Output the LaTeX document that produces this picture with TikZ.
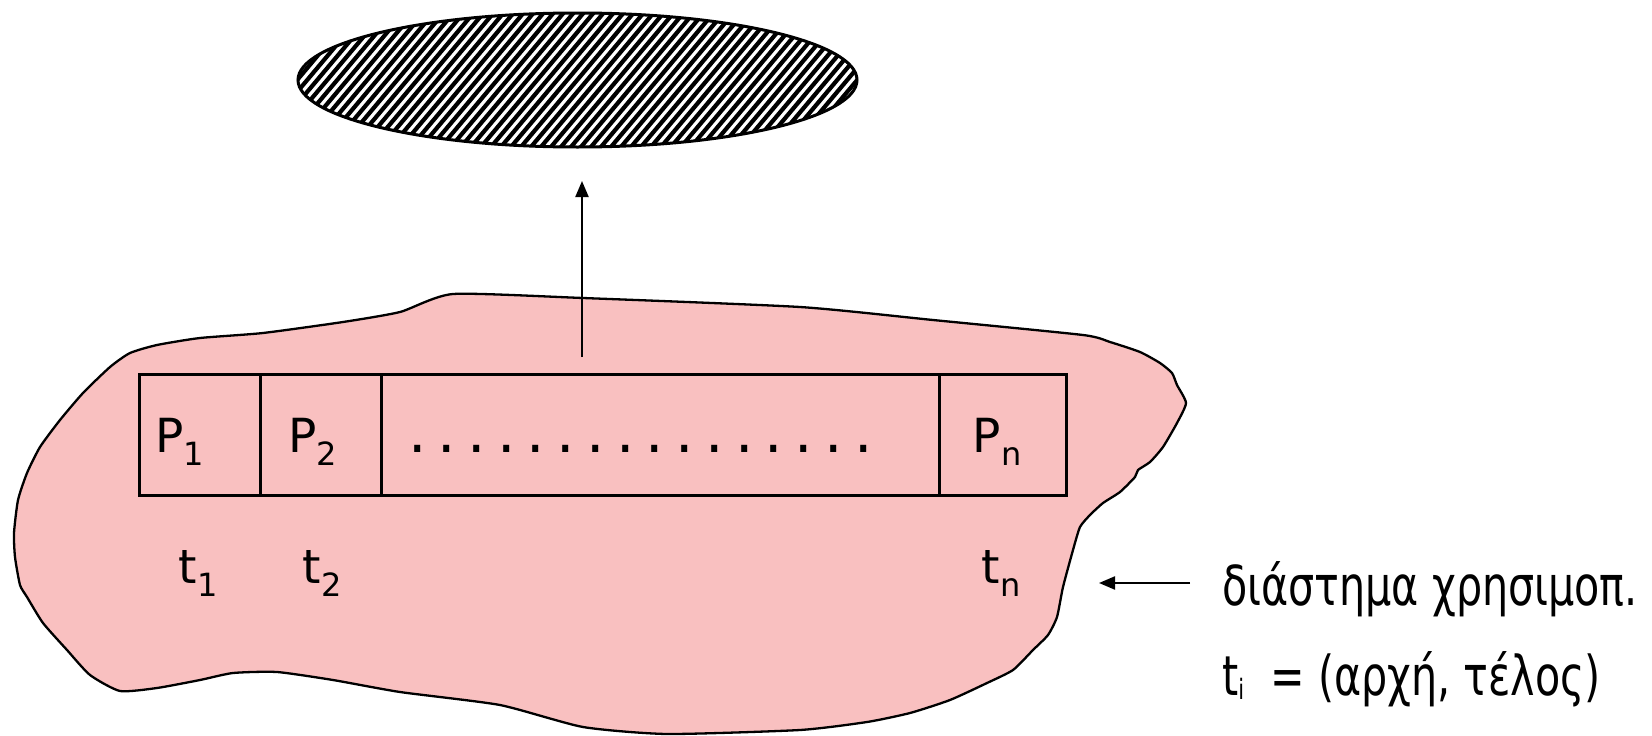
\documentclass[tikz,border=0pt]{standalone}
\usepackage{fontspec}
\setmainfont{DejaVu Sans}
\newfontfamily\narrowfont{DejaVu Sans}[FakeStretch=0.75]
\usetikzlibrary{shapes.geometric,arrows.meta}
\definecolor{blobpink}{RGB}{249,192,192}
\newcommand\lowsub[1]{\raisebox{-13pt}{\fontsize{32}{32}\selectfont #1}}
\newcommand\smallsub[1]{\raisebox{-4pt}{\fontsize{28}{28}\selectfont #1}}
\begin{document}
\begin{tikzpicture}[x=1pt,y=-1pt,
  outline/.style={draw=black,line width=2.3pt,line join=round},
  cell/.style={draw=black,line width=2.5pt,minimum height=121pt,inner sep=0pt,anchor=north west},
  lbl/.style={inner sep=0pt,anchor=base,font=\fontsize{47}{56}\selectfont},
  side/.style={inner sep=0pt,anchor=base west,font=\narrowfont\fontsize{55}{66}\selectfont},
  arr/.style={line width=2.2pt,-{Triangle[length=16pt,width=13pt]}}]
\path[use as bounding box] (0,0) rectangle (1652,736);
% blob
\draw[outline,fill=blobpink] plot[smooth cycle,tension=0.35] coordinates {
 (453,294) (583,298) (800,307) (933,320) (1083,335) (1110,342) (1140,352) (1160,363)
 (1172,373) (1177,385) (1186,403) (1177,423) (1163,447) (1150,462) (1138,470) (1135,477)
 (1120,492) (1103,503) (1090,515) (1080,527) (1073,550) (1063,587) (1057,617) (1048,635)
 (1033,650) (1013,670) (987,683) (950,700) (910,713) (867,722) (800,730) (667,734)
 (583,727) (500,705) (400,692) (333,680) (277,672) (233,673) (200,680) (157,688)
 (120,691) (90,675) (67,650) (43,623) (27,597) (20,585) (15,557) (14,533) (18,500)
 (27,473) (40,447) (60,420) (83,393) (110,367) (130,353) (157,345) (200,338) (263,333)
 (343,322) (400,312)};
% cells
\node[cell,minimum width=121pt] (c1) at (138,373) {};
\node[cell,minimum width=121pt] (c2) at (259,373) {};
\node[cell,minimum width=558pt] (cd) at (380,373) {};
\node[cell,minimum width=127pt] (cn) at (938,373) {};
\node[lbl] (p1) at (180,452) {P\lowsub{1}};
\node[lbl] (p2) at (313,452) {P\lowsub{2}};
\node[lbl] (pn) at (997,452) {P\lowsub{n}};
\node[inner sep=0pt,anchor=base west,font=\fontsize{58}{60}\selectfont] (dots) at (407.8,452)
 {.\hskip11.3pt.\hskip11.3pt.\hskip11.3pt.\hskip11.3pt.\hskip11.3pt.\hskip11.3pt.\hskip11.3pt.\hskip11.3pt.\hskip11.3pt.\hskip11.3pt.\hskip11.3pt.\hskip11.3pt.\hskip11.3pt.\hskip11.3pt.\hskip11.3pt.};
\node[lbl] (t1) at (198,583) {t\lowsub{1}};
\node[lbl] (t2) at (322,583) {t\lowsub{2}};
\node[lbl] (tn) at (1001,583) {t\lowsub{n}};
% hatched ellipse
\begin{scope}
\clip (577.5,80) ellipse [x radius=279.5pt, y radius=67pt];
\foreach \x in {100,110,...,1000} \draw[line width=4.2pt] (\x,160) -- ++(126,-150);
\end{scope}
\node[ellipse,draw,line width=3pt,minimum width=559pt,minimum height=134pt,inner sep=0pt] (ell) at (577.5,80) {};
% up arrow
\coordinate (upbase) at (582,357);
\coordinate (uptip) at (582,181);
\draw[arr] (upbase) -- (uptip);
% side texts
\node[side] (usage) at (1222,605) {διάστημα χρησιμοπ.};
\node[side] (tidef) at (1222,695) {t\smallsub{i}\ \ = (αρχή, τέλος)};
\coordinate (sidestart) at (1190,583);
\coordinate (sidetip) at (1099,583);
\draw[arr] (sidestart) -- (sidetip);
\end{tikzpicture}
\end{document}
